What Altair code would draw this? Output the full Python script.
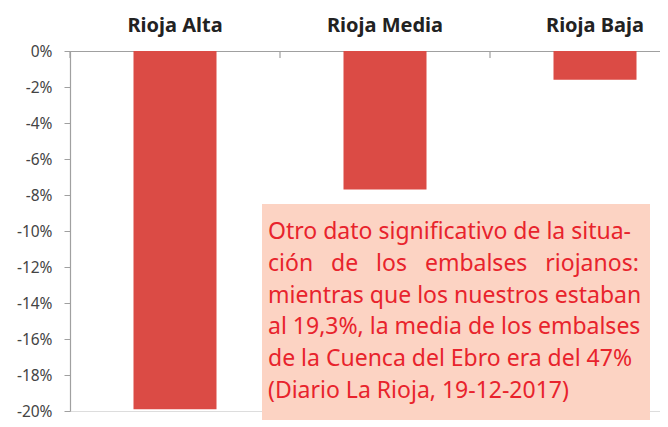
import altair as alt
import pandas as pd

categories = ["Rioja Alta", "Rioja Media", "Rioja Baja"]
values = [-19.9, -7.7, -1.6]
y_ticks = [0, -2, -4, -6, -8, -10, -12, -14, -16, -18, -20]
gap = "\u00a0\u00a0\u00a0"
note_lines = [
    "Otro dato significativo de la situa-",
    gap.join(["ción", "de", "los", "embalses", "riojanos:"]),
    "mientras que los nuestros estaban",
    "al 19,3%, la media de los embalses",
    "de la Cuenca del Ebro era del 47%",
    "(Diario La Rioja, 19-12-2017)",
]

df = pd.DataFrame({"cat": categories, "val": values})

xscale = alt.Scale(domain=categories, range=[0, 630], paddingInner=0, paddingOuter=0)
yscale = alt.Scale(domain=[-20, 0], nice=False, zero=False)

bars = alt.Chart(df).mark_bar(size=83, color="#db4b45").encode(
    x=alt.X(
        "cat:N",
        scale=xscale,
        sort=categories,
        axis=alt.Axis(
            orient="top",
            title=None,
            ticks=False,
            labelPadding=16,
            labelFont="Noto Sans",
            labelFontWeight="bold",
            labelFontSize=20,
            labelColor="#222222",
            labelAngle=0,
            domainColor="#a0a0a0",
            domainWidth=1.2,
        ),
    ),
    y=alt.Y(
        "val:Q",
        scale=yscale,
        axis=alt.Axis(
            title=None,
            values=y_ticks,
            labelExpr="datum.value + '%'",
            grid=False,
            tickSize=6,
            tickColor="#a0a0a0",
            domainColor="#a0a0a0",
            domainWidth=1.2,
            labelPadding=12,
            labelFont="Noto Sans",
            labelFontSize=15.5,
            labelColor="#444444",
        ),
    ),
)

ticks = alt.Chart(df).mark_rule(color="#a0a0a0", strokeWidth=1.2).encode(
    x=alt.X("cat:N", scale=xscale, sort=categories, bandPosition=0),
    y=alt.value(0),
    y2=alt.value(7),
)

box = alt.Chart(pd.DataFrame({"a": [1]})).mark_rect(color="#fcd3c3").encode(
    x=alt.value(192), x2=alt.value(580), y=alt.value(153), y2=alt.value(369)
)

note = alt.Chart(pd.DataFrame({"t": ["\n".join(note_lines)]})).mark_text(
    align="left",
    baseline="top",
    lineBreak="\n",
    lineHeight=31.8,
    font="Noto Sans",
    fontSize=23,
    color="#e8232c",
).encode(text="t:N", x=alt.value(198), y=alt.value(170))

chart = (
    alt.layer(bars, ticks, box, note)
    .properties(
        width=590,
        height=360,
        padding={"left": 62, "top": 43, "right": 0, "bottom": 14},
        autosize=alt.AutoSizeParams(type="none"),
    )
    .configure_view(stroke=None)
    .configure(background="white")
)

chart.save("out.html", embed_options={"renderer": "svg", "actions": False})
